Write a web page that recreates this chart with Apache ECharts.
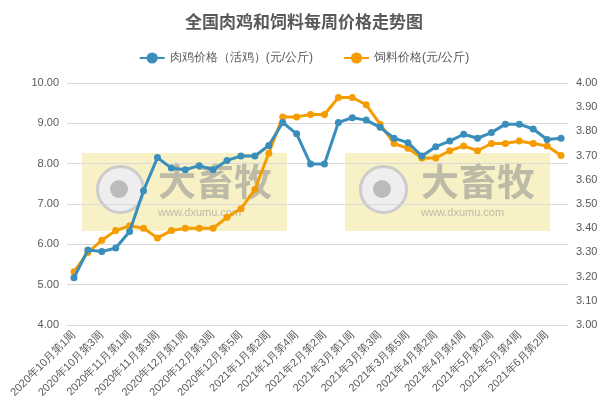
<!DOCTYPE html>
<html><head><meta charset="utf-8">
<script src="https://cdn.jsdelivr.net/npm/echarts@6/dist/echarts.min.js"></script>
<style>html,body{margin:0;padding:0;background:#fff}#main{width:608px;height:417px}</style>
</head><body><div id="main"></div>
<script>
var weeks = [
  "2020年10月第1周","2020年10月第2周","2020年10月第3周","2020年10月第4周",
  "2020年11月第1周","2020年11月第2周","2020年11月第3周","2020年11月第4周",
  "2020年12月第1周","2020年12月第2周","2020年12月第3周","2020年12月第4周","2020年12月第5周",
  "2021年1月第1周","2021年1月第2周","2021年1月第3周","2021年1月第4周",
  "2021年2月第1周","2021年2月第2周","2021年2月第3周",
  "2021年3月第1周","2021年3月第2周","2021年3月第3周","2021年3月第4周","2021年3月第5周",
  "2021年4月第1周","2021年4月第2周","2021年4月第3周","2021年4月第4周",
  "2021年5月第1周","2021年5月第2周","2021年5月第3周","2021年5月第4周",
  "2021年6月第1周","2021年6月第2周","2021年6月第3周"
];
var chickenPrice = [5.17,5.86,5.82,5.91,6.32,7.33,8.15,7.89,7.85,7.95,7.85,8.08,8.19,8.19,8.45,9.02,8.74,7.99,7.99,
  9.02,9.14,9.08,8.90,8.63,8.52,8.19,8.42,8.56,8.73,8.63,8.77,8.98,8.98,8.86,8.60,8.63];
var feedPrice = [3.22,3.30,3.35,3.39,3.41,3.40,3.36,3.39,3.40,3.40,3.40,3.445,3.48,3.56,3.71,3.86,3.86,3.87,3.87,
  3.94,3.94,3.91,3.83,3.75,3.73,3.69,3.69,3.72,3.74,3.72,3.75,3.75,3.76,3.75,3.74,3.70];

var chart = echarts.init(document.getElementById('main'));
function mark(x) {
  return [
    {type:'rect', left:x, top:153, shape:{width:205, height:78}, style:{fill:'rgba(240,230,150,0.55)'}, z:0},
    {type:'circle', left:x+14, top:165, shape:{r:23}, style:{fill:'#eee', stroke:'#ccc', lineWidth:3}, z:0},
    {type:'circle', left:x+28, top:180, shape:{r:9}, style:{fill:'#bbb'}, z:0},
    {type:'text', left:x+76, top:162, style:{text:'大畜牧', fill:'rgba(150,150,150,0.6)', font:'bold 38px "Noto Sans CJK SC"'}, z:0},
    {type:'text', left:x+76, top:207, style:{text:'www.dxumu.com', fill:'rgba(150,150,150,0.6)', font:'11px sans-serif'}, z:0}
  ];
}
chart.setOption({
  animation: false,
  title: {text:'全国肉鸡和饲料每周价格走势图', left:'center', top:8,
    textStyle:{fontSize:17, fontWeight:'bold', color:'#595959', fontFamily:'Noto Sans CJK SC'}},
  legend: {top:47, itemGap:30, textStyle:{fontSize:12, color:'#595959'},
    data:['肉鸡价格（活鸡）(元/公斤)','饲料价格(元/公斤)']},
  graphic: mark(82).concat(mark(345)),
  grid: {left:67, right:40, top:83, bottom:92},
  xAxis: {type:'category', data:weeks,
    axisLine:{lineStyle:{color:'#d9d9d9'}}, axisTick:{show:false},
    axisLabel:{interval:1, rotate:45, fontSize:11, color:'#595959'}},
  yAxis: [
    {type:'value', min:4, max:10, interval:1, axisLabel:{formatter:function(v){return v.toFixed(2);}, color:'#595959', fontSize:11},
      splitLine:{lineStyle:{color:'#d9d9d9'}}},
    {type:'value', min:3, max:4, interval:0.1, axisLabel:{formatter:function(v){return v.toFixed(2);}, color:'#595959', fontSize:11},
      splitLine:{show:false}}
  ],
  series: [
    {name:'肉鸡价格（活鸡）(元/公斤)', type:'line', data:chickenPrice, yAxisIndex:0, symbol:'circle', symbolSize:7,
      color:'#3a8ebb', lineStyle:{width:3}, z:3},
    {name:'饲料价格(元/公斤)', type:'line', data:feedPrice, yAxisIndex:1, symbol:'circle', symbolSize:7,
      color:'#f59c00', lineStyle:{width:3}, z:2}
  ]
});
</script></body></html>
